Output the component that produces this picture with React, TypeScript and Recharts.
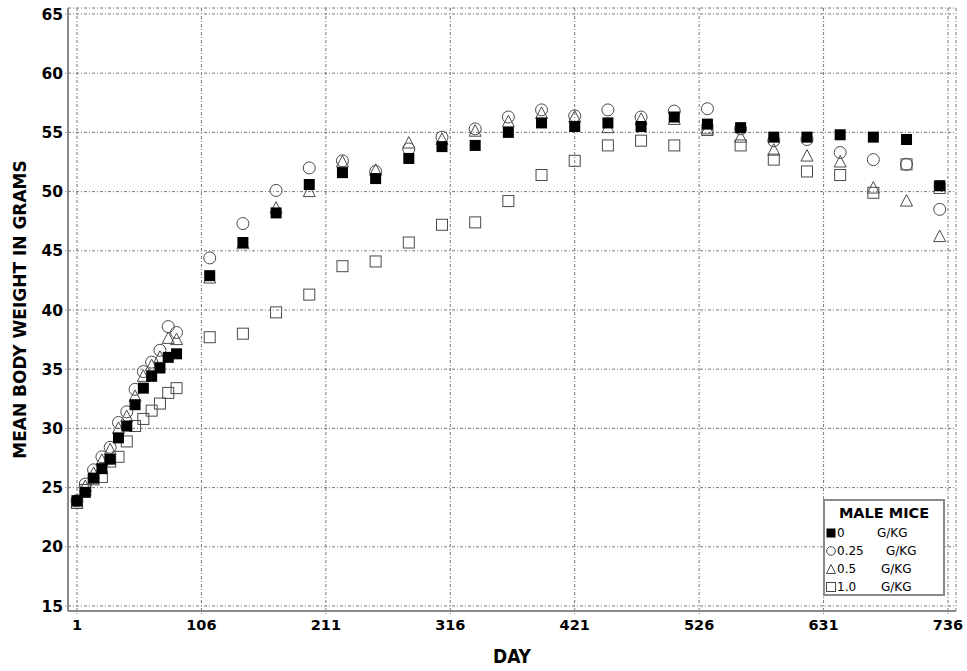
import React from "react";
import { CartesianGrid, Legend, Scatter, ScatterChart, XAxis, YAxis } from "recharts";

// weekly weighings, then every 28 days
const earlyDays = [1, 8, 15, 22, 29, 36, 43, 50, 57, 64, 71, 78, 85];
const monthlyDays = [
  113, 141, 169, 197, 225, 253, 281, 309, 337, 365, 393, 421, 449, 477, 505, 533,
  561, 589, 617, 645, 673, 701, 729,
];
const days = [...earlyDays, ...monthlyDays];

const dose0 = [
  23.9, 24.6, 25.8, 26.6, 27.4, 29.2, 30.2, 32.0, 33.4, 34.4, 35.1, 36.0, 36.3,
  42.9, 45.7, 48.2, 50.6, 51.6, 51.1, 52.8, 53.8, 53.9, 55.0, 55.8, 55.5, 55.8,
  55.5, 56.3, 55.7, 55.4, 54.6, 54.6, 54.8, 54.6, 54.4, 50.5,
];
const dose025 = [
  23.9, 25.3, 26.5, 27.6, 28.4, 30.5, 31.4, 33.3, 34.8, 35.6, 36.6, 38.6, 38.1,
  44.4, 47.3, 50.1, 52.0, 52.6, 51.7, 53.6, 54.6, 55.3, 56.3, 56.9, 56.4, 56.9,
  56.3, 56.8, 57.0, 55.3, 54.3, 54.4, 53.3, 52.7, 52.3, 48.5,
];
const dose05 = [
  23.8, 25.1, 26.2, 27.3, 28.2, 30.0, 31.0, 32.7, 34.4, 35.3, 36.0, 37.6, 37.5,
  42.7, 45.6, 48.6, 50.0, 52.5, 51.8, 54.1, 54.4, 55.1, 55.9, 56.6, 56.3, 55.4,
  56.1, 56.1, 55.3, 54.6, 53.5, 53.0, 52.5, 50.3, 49.2, 46.2,
];
const dose10 = [
  23.7, 24.8, 25.7, 25.9, 27.2, 27.6, 28.9, 30.2, 30.8, 31.5, 32.1, 33.0, 33.4,
  37.7, 38.0, 39.8, 41.3, 43.7, 44.1, 45.7, 47.2, 47.4, 49.2, 51.4, 52.6, 53.9,
  54.3, 53.9, 55.2, 53.9, 52.7, 51.7, 51.4, 49.9, 52.3, 50.3,
];

const xTicks = [1, 106, 211, 316, 421, 526, 631, 736];
const yTicks = [15, 20, 25, 30, 35, 40, 45, 50, 55, 60, 65];

const doseLabels = ["0", "0.25", "0.5", "1.0"];
const unitLabel = "G/KG";
const legendTitle = "MALE MICE";

const toPoints = (vals: number[]) => days.map((d, i) => ({ day: d, weight: vals[i] }));

const FONT = "DejaVu Sans, Verdana, sans-serif";
const OPEN = "#4a4a4a";
const FRAME = "#8a8a8a";

const FilledSquare = (p: any) => (
  <rect x={p.cx - 5.5} y={p.cy - 5.5} width={11} height={11} fill="#000" />
);
const OpenCircle = (p: any) => (
  <circle cx={p.cx} cy={p.cy} r={6} fill="none" stroke={OPEN} strokeWidth={1} />
);
const OpenTriangle = (p: any) => (
  <polygon
    points={`${p.cx},${p.cy - 6.5} ${p.cx - 6},${p.cy + 5} ${p.cx + 6},${p.cy + 5}`}
    fill="none"
    stroke={OPEN}
    strokeWidth={1}
  />
);
const OpenSquare = (p: any) => (
  <rect x={p.cx - 5.5} y={p.cy - 5.5} width={11} height={11} fill="none" stroke={OPEN} strokeWidth={1} />
);

const legendIcon = (i: number) => {
  if (i === 0) return <rect x={0.5} y={0.5} width={9} height={9} fill="#000" />;
  if (i === 1) return <circle cx={5} cy={5} r={4.3} fill="none" stroke={OPEN} />;
  if (i === 2) return <polygon points="5,0.5 0.5,9.5 9.5,9.5" fill="none" stroke={OPEN} />;
  return <rect x={0.5} y={0.5} width={9} height={9} fill="none" stroke={OPEN} />;
};

const unitLeft = [52, 61, 56, 56];

const renderLegend = () => (
  <div
    style={{
      width: 122,
      height: 97,
      boxSizing: "border-box",
      border: `2px solid ${FRAME}`,
      background: "#fff",
      fontFamily: FONT,
      color: "#000",
    }}
  >
    <div
      style={{
        height: 22,
        lineHeight: "22px",
        marginTop: 1,
        textAlign: "center",
        fontWeight: "bold",
        fontSize: 14.5,
      }}
    >
      {legendTitle}
    </div>
    {doseLabels.map((d, i) => (
      <div key={d} style={{ position: "relative", height: 18, lineHeight: "18px", fontSize: 12 }}>
        <svg width={10} height={10} style={{ position: "absolute", left: 1, top: 4 }}>
          {legendIcon(i)}
        </svg>
        <span style={{ position: "absolute", left: 12 }}>{d}</span>
        <span style={{ position: "absolute", left: unitLeft[i] }}>{unitLabel}</span>
      </div>
    ))}
  </div>
);

export default function App() {
  const xTickStyle = { fill: "#000", fontSize: 14.5, fontWeight: "bold", fontFamily: FONT };
  const yTickStyle = { fill: "#000", fontSize: 15.5, fontWeight: "bold", fontFamily: FONT };
  return (
    <div style={{ position: "absolute", left: 0, top: 0, background: "#fff" }}>
      <ScatterChart
        width={967}
        height={671}
        margin={{ top: 8, right: 11, bottom: 0, left: 0 }}
        style={{ fontFamily: FONT }}
      >
        <CartesianGrid stroke="#777" strokeDasharray="3 2 1 2" strokeWidth={1} />
        <XAxis
          dataKey="day"
          type="number"
          domain={[1, 736]}
          ticks={xTicks}
          interval={0}
          padding={{ left: 9, right: 8 }}
          height={60}
          tick={xTickStyle}
          tickSize={3}
          tickMargin={6}
          tickLine={{ stroke: "#777", strokeDasharray: "1 1" }}
          axisLine={{ stroke: FRAME, strokeWidth: 2 }}
          label={{
            value: "DAY",
            position: "insideBottom",
            offset: 8,
            style: {
              fill: "#000",
              fontSize: 19,
              fontWeight: "bold",
              fontFamily: "DejaVu Sans Condensed, DejaVu Sans, sans-serif",
              fontStretch: "condensed",
            },
          }}
        />
        <XAxis
          xAxisId="top"
          orientation="top"
          type="number"
          domain={[1, 736]}
          height={0}
          tick={false}
          tickLine={false}
          axisLine={{ stroke: FRAME, strokeWidth: 2 }}
        />
        <YAxis
          dataKey="weight"
          type="number"
          domain={[15, 65]}
          ticks={yTicks}
          interval={0}
          padding={{ top: 6, bottom: 5 }}
          width={68}
          tick={yTickStyle}
          tickSize={3}
          tickMargin={2}
          tickLine={{ stroke: "#777", strokeDasharray: "1 1" }}
          axisLine={{ stroke: FRAME, strokeWidth: 2 }}
          label={{
            value: "MEAN BODY WEIGHT IN GRAMS",
            angle: -90,
            position: "insideLeft",
            offset: 20,
            style: {
              textAnchor: "middle",
              fill: "#000",
              fontSize: 17,
              fontWeight: "bold",
              fontFamily: FONT,
            },
          }}
        />
        <YAxis
          yAxisId="right"
          orientation="right"
          type="number"
          domain={[15, 65]}
          width={0}
          tick={false}
          tickLine={false}
          axisLine={{ stroke: FRAME, strokeWidth: 2 }}
        />
        <Scatter name="1.0 G/KG" data={toPoints(dose10)} shape={OpenSquare} isAnimationActive={false} />
        <Scatter name="0.5 G/KG" data={toPoints(dose05)} shape={OpenTriangle} isAnimationActive={false} />
        <Scatter name="0.25 G/KG" data={toPoints(dose025)} shape={OpenCircle} isAnimationActive={false} />
        <Scatter name="0 G/KG" data={toPoints(dose0)} shape={FilledSquare} isAnimationActive={false} />
        <Legend
          layout="vertical"
          align="center"
          verticalAlign="middle"
          content={renderLegend}
          wrapperStyle={{ left: 823, top: 499, width: 122, height: 97 }}
        />
      </ScatterChart>
    </div>
  );
}
